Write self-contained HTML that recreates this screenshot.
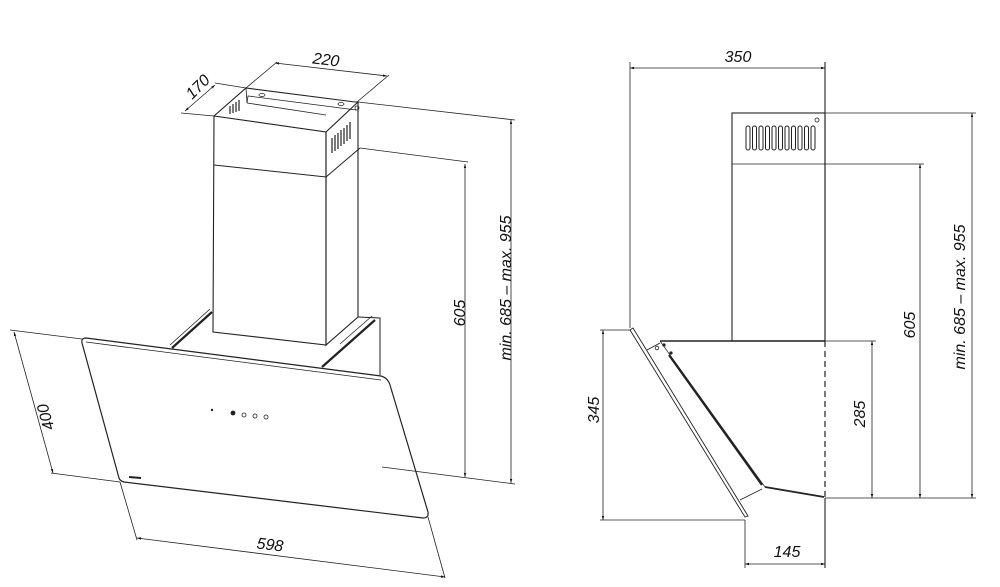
<!DOCTYPE html>
<html><head><meta charset="utf-8"><style>
html,body{margin:0;padding:0;background:#fff;}
svg{display:block;}
text{font-family:"Liberation Sans",sans-serif;font-style:italic;font-size:16px;fill:#111;}
</style></head><body>
<svg width="1000" height="587" viewBox="0 0 1000 587" xmlns="http://www.w3.org/2000/svg">
<defs>
<marker id="a" viewBox="0 0 10 10" refX="10" refY="5" markerWidth="7" markerHeight="5" orient="auto-start-reverse"><path d="M0,2 L10,5 L0,8 z" fill="#111"/></marker>
</defs>
<g stroke="#222" stroke-width="0.8" fill="none">
<polygon points="214,116 326,132 326,345 213,332" stroke-width="1.1"/>
<polygon points="326,132 358,102 358,317 326,345" stroke-width="1.1"/>
<polyline points="214,116 246,88 355,102 358,102" stroke-width="1.1"/>
<polyline points="247,103 248,96 356,110"/>
<line x1="247" y1="103" x2="326" y2="115"/>
<line x1="246" y1="88" x2="247" y2="103"/>
<polyline points="214,165 326,177 360,148" stroke-width="1"/>
<g stroke-width="1.2">
<line x1="332" y1="138" x2="332" y2="153"/><line x1="335" y1="135" x2="335" y2="151"/><line x1="338" y1="133" x2="338" y2="149"/><line x1="341" y1="130" x2="341" y2="146"/><line x1="344" y1="128" x2="344" y2="144"/><line x1="347" y1="125" x2="347" y2="141"/><line x1="350" y1="122" x2="350" y2="139"/>
<line x1="230" y1="106" x2="230" y2="114"/><line x1="233" y1="104" x2="233" y2="113"/><line x1="236" y1="102" x2="236" y2="112"/><line x1="239" y1="100" x2="239" y2="111"/>
</g>
<ellipse cx="262" cy="95" rx="3" ry="1.5"/><ellipse cx="341" cy="104" rx="3" ry="1.5"/>
<circle cx="357" cy="108" r="2"/>
<polyline points="358,317 380,318 380,375" stroke-width="1"/>
<line x1="212" y1="312" x2="172" y2="348" stroke-width="2.2"/>
<line x1="210" y1="309" x2="170" y2="345"/>
<line x1="375" y1="320" x2="322" y2="367" stroke-width="2.2"/>
<line x1="372" y1="316" x2="340" y2="344"/>
<path d="M86,338 L381,376 Q388,378 390,385 L428,512 Q429,518 423,518 L124,482 Q120,481 119,478 L82,343 Q81,338 86,338 Z" stroke-width="1.2"/>
<line x1="86" y1="342" x2="381" y2="380"/>
<circle cx="212" cy="410" r="0.8" fill="#222"/>
<circle cx="233" cy="413" r="2" fill="#222"/><circle cx="244" cy="415" r="2"/><circle cx="255" cy="416" r="2"/><circle cx="266" cy="417" r="2"/>
<line x1="129" y1="477" x2="141" y2="478" stroke-width="2"/>
<line x1="185" y1="111" x2="215" y2="85" marker-start="url(#a)" marker-end="url(#a)"/>
<line x1="215" y1="83" x2="246" y2="88"/>
<line x1="181" y1="113" x2="214" y2="116"/>
<line x1="275" y1="63" x2="387" y2="76" marker-start="url(#a)" marker-end="url(#a)"/>
<line x1="277" y1="62" x2="246" y2="88"/>
<line x1="389" y1="75" x2="357" y2="102"/>
<line x1="358" y1="102" x2="515" y2="120"/>
<line x1="360" y1="148" x2="468" y2="162"/>
<line x1="382" y1="467" x2="515" y2="484"/>
<line x1="465" y1="164" x2="465" y2="477" marker-start="url(#a)" marker-end="url(#a)"/>
<line x1="511" y1="120" x2="511" y2="483" marker-start="url(#a)" marker-end="url(#a)"/>
<line x1="10" y1="330" x2="82" y2="339"/>
<line x1="14" y1="332" x2="53" y2="473" marker-start="url(#a)" marker-end="url(#a)"/>
<line x1="51" y1="473" x2="120" y2="482"/>
<line x1="120" y1="482" x2="137" y2="540"/>
<line x1="428" y1="517" x2="445" y2="578"/>
<line x1="137" y1="538" x2="445" y2="577" marker-start="url(#a)" marker-end="url(#a)"/>
<rect x="732" y="113" width="93" height="228" stroke-width="1.1"/>
<line x1="732" y1="164" x2="825" y2="164"/>
<g stroke-width="1">
<rect x="746" y="126" width="4" height="24" rx="2"/><rect x="752.5" y="126" width="4" height="24" rx="2"/><rect x="759" y="126" width="4" height="24" rx="2"/><rect x="765.5" y="126" width="4" height="24" rx="2"/><rect x="772" y="126" width="4" height="24" rx="2"/><rect x="778.5" y="126" width="4" height="24" rx="2"/><rect x="785" y="126" width="4" height="24" rx="2"/><rect x="791.5" y="126" width="4" height="24" rx="2"/><rect x="798" y="126" width="4" height="24" rx="2"/><rect x="804.5" y="126" width="4" height="24" rx="2"/><rect x="811" y="126" width="4" height="24" rx="2"/>
</g>
<circle cx="817" cy="120" r="2"/>
<line x1="660" y1="341" x2="825" y2="341" stroke-width="1.4"/>
<line x1="825" y1="341" x2="825" y2="498" stroke-dasharray="6,4" stroke-width="1.2"/>
<line x1="669" y1="355" x2="762" y2="485" stroke-width="2.2"/>
<line x1="660" y1="341" x2="765" y2="487" stroke-width="0.7"/>
<line x1="765" y1="487" x2="824" y2="497" stroke-width="1.8"/>
<line x1="647" y1="350" x2="660" y2="343"/>
<line x1="740" y1="500" x2="762" y2="489"/>
<circle cx="657" cy="348" r="1.8"/><circle cx="664" cy="345" r="1.2" fill="#222"/><circle cx="671" cy="353" r="1.2" fill="#222"/>
<path d="M630,330 L745,517 L748,516 L633,328 Z" stroke-width="0.9"/>
<line x1="630" y1="68" x2="825" y2="68" marker-start="url(#a)" marker-end="url(#a)"/>
<line x1="630" y1="62" x2="630" y2="328"/>
<line x1="825" y1="62" x2="825" y2="341" stroke-width="1.1"/>
<line x1="825" y1="498" x2="825" y2="568" stroke-width="1.1"/>
<line x1="825" y1="113" x2="976" y2="113"/>
<line x1="825" y1="164" x2="924" y2="164"/>
<line x1="825" y1="341" x2="876" y2="341"/>
<line x1="825" y1="498" x2="976" y2="498"/>
<line x1="872" y1="341" x2="872" y2="498" marker-start="url(#a)" marker-end="url(#a)"/>
<line x1="920" y1="164" x2="920" y2="498" marker-start="url(#a)" marker-end="url(#a)"/>
<line x1="972" y1="113" x2="972" y2="498" marker-start="url(#a)" marker-end="url(#a)"/>
<line x1="600" y1="330" x2="630" y2="330"/>
<line x1="600" y1="520" x2="745" y2="520"/>
<line x1="603" y1="330" x2="603" y2="520" marker-start="url(#a)" marker-end="url(#a)"/>
<line x1="745" y1="520" x2="745" y2="568"/>
<line x1="745" y1="564" x2="825" y2="564" marker-start="url(#a)" marker-end="url(#a)"/>
</g>
<text x="326" y="65" transform="rotate(7 326 60)" text-anchor="middle">220</text>
<text x="198" y="92" transform="rotate(-45 198 87)" text-anchor="middle">170</text>
<text x="460" y="318" transform="rotate(-90 460 313)" text-anchor="middle">605</text>
<text x="506" y="293" transform="rotate(-90 506 288)" text-anchor="middle">min. 685 – max. 955</text>
<text x="46" y="422" transform="rotate(-106 46 417)" text-anchor="middle">400</text>
<text x="270" y="550" transform="rotate(7 270 545)" text-anchor="middle">598</text>
<text x="738" y="62" text-anchor="middle">350</text>
<text x="599" y="420" transform="rotate(-90 594 415)" text-anchor="middle">345</text>
<text x="865" y="424" transform="rotate(-90 860 419)" text-anchor="middle">285</text>
<text x="915" y="335" transform="rotate(-90 910 330)" text-anchor="middle">605</text>
<text x="965" y="307" transform="rotate(-90 960 302)" text-anchor="middle">min. 685 – max. 955</text>
<text x="787" y="557" text-anchor="middle">145</text>
</svg>
</body></html>
